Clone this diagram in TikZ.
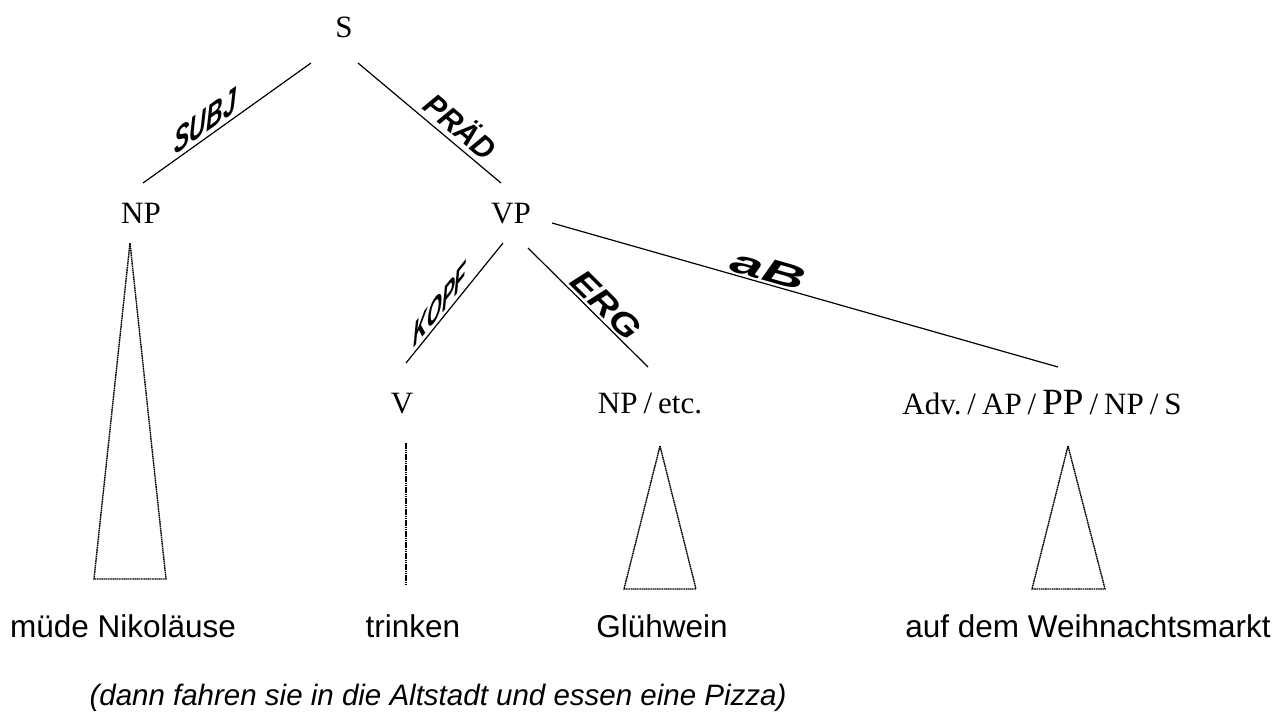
\documentclass[tikz,border=0pt]{standalone}
\usepackage{fontspec}
\setmainfont{Liberation Serif}
\newfontfamily\arialfont{Liberation Sans}
\newcommand\slsh{\kern6pt/\kern6pt}
\newcommand\relx[2]{\scalebox{#1}[1]{#2}}
\begin{document}
\begin{tikzpicture}[x=1pt,y=-1pt,
  lab/.style={font=\fontsize{31}{31}\selectfont, anchor=base, inner sep=0pt},
  word/.style={font=\arialfont\fontsize{31.5}{31.5}\selectfont, anchor=base, inner sep=0pt},
  relfont/.style={font=\arialfont\bfseries\itshape\fontsize{#1}{#1}\selectfont},
  rel/.style={sloped, above, inner sep=2pt},
  shear/.style={anchor=south, inner sep=4pt},
  edge/.style={line width=1.2pt},
  tri/.style={line width=1.4pt, dash pattern=on 1.6pt off 0.6pt}]
\useasboundingbox (0,0) rectangle (1287,718);
% category labels
\node[lab] (S) at (344,37) {S};
\node[lab] (NP) at (141,223) {NP};
\node[lab] (VP) at (511,223) {VP};
\node[lab] (V) at (402,413) {V};
\node[lab] (NPe) at (650,413) {NP\slsh etc.};
\node[lab] (ADV) at (1042,414) {Adv.\slsh AP\slsh{\fontsize{37}{37}\selectfont PP}\slsh NP\slsh S};
% words
\node[word] (w1) at (123,637) {müde Nikoläuse};
\node[word] (w2) at (413,637) {trinken};
\node[word] (w3) at (662,637) {Glühwein};
\node[word] (w4) at (1088,637) {auf dem Weihnachtsmarkt};
\node[word, font=\arialfont\itshape\fontsize{29.5}{29.5}\selectfont] (w5) at (438,705) {(dann fahren sie in die Altstadt und essen eine Pizza)};
% connector end points
\coordinate (s1) at (311,63);
\coordinate (s2) at (358,63);
\coordinate (np1) at (143,183);
\coordinate (vp1) at (501,183);
\coordinate (vp2) at (503,243);
\coordinate (vp3) at (528,248);
\coordinate (vp4) at (552,223);
\coordinate (v1) at (406,363);
\coordinate (ne1) at (648,367);
\coordinate (ad1) at (1058,367);
% edges
\draw[edge] (np1) -- node[shear, relfont=36, yslant=0.713, pos=.37] (lsubj) {\relx{.64}{SUBJ}} (s1);
\draw[edge] (s2) -- node[rel, relfont=31, pos=.64, inner sep=5pt] (lprad) {\relx{.95}{PRÄD}} (vp1);
\draw[edge] (v1) -- node[shear, relfont=34, yslant=1.237, pos=.35] (lkopf) {\relx{.56}{KOPF}} (vp2);
\draw[edge] (vp3) -- node[rel, relfont=33, pos=.565] (lerg) {\relx{1.17}{ERG}} (ne1);
\draw[edge] (vp4) -- node[rel, relfont=33, pos=.42] (lab) {\relx{1.8}{aB}} (ad1);
% triangles
\coordinate (ta1) at (130,243); \coordinate (tl1) at (94,579); \coordinate (tr1) at (166,579);
\coordinate (ta2) at (660,446); \coordinate (tl2) at (624,589); \coordinate (tr2) at (696,589);
\coordinate (ta3) at (1068,446); \coordinate (tl3) at (1032,589); \coordinate (tr3) at (1105,589);
\coordinate (va) at (406,443); \coordinate (vb) at (406,585);
\draw[tri] (ta1) -- (tl1) -- (tr1) -- cycle;
\draw[tri] (ta2) -- (tl2) -- (tr2) -- cycle;
\draw[tri] (ta3) -- (tl3) -- (tr3) -- cycle;
\draw[tri] (va) -- (vb);
\end{tikzpicture}
\end{document}
